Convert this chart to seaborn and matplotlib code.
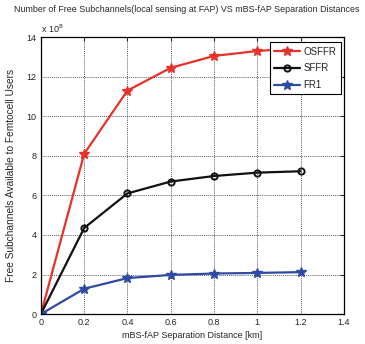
import matplotlib
matplotlib.use("Agg")
import matplotlib.pyplot as plt
import seaborn as sns
import pandas as pd
import numpy as np

distance = [0, 0.2, 0.4, 0.6, 0.8, 1.0, 1.2]
osffr = [0, 8.1, 11.3, 12.45, 13.05, 13.3, 13.45]
sffr = [0, 4.35, 6.1, 6.7, 6.98, 7.15, 7.22]
fr1 = [0, 1.28, 1.82, 1.98, 2.05, 2.08, 2.12]
series_names = ["OSFFR", "SFFR", "FR1"]
xticks = [0, 0.2, 0.4, 0.6, 0.8, 1, 1.2, 1.4]
yticks = [0, 2, 4, 6, 8, 10, 12, 14]

sns.set_style("white")
plt.rcParams['font.family'] = ['Liberation Sans', 'DejaVu Sans']

df = pd.DataFrame({
    "d": distance * 3,
    "v": osffr + sffr + fr1,
    "s": [series_names[0]] * 7 + [series_names[1]] * 7 + [series_names[2]] * 7,
})

fig = plt.figure(figsize=(3.65, 3.44), dpi=100)
ax = fig.add_axes([0.112, 0.087, 0.830, 0.805])

colors = {"OSFFR": "#e8312a", "SFFR": "#111111", "FR1": "#2f4aa5"}
markers = {"OSFFR": "*", "SFFR": "o", "FR1": "*"}
for name in series_names:
    sub = df[df.s == name]
    sns.lineplot(data=sub, x="d", y="v", ax=ax, color=colors[name], lw=1.6,
                 marker=markers[name],
                 markersize=7 if markers[name] == "*" else 4.5,
                 markerfacecolor=colors[name] if markers[name] == "*" else "none",
                 markeredgecolor=colors[name], markeredgewidth=1.4 if name == "SFFR" else 1,
                 label=name)

ax.set_xlim(0, 1.4)
ax.set_ylim(0, 14)
ax.set_xticks(xticks)
ax.set_xticklabels([f"{t:g}" for t in xticks])
ax.set_yticks(yticks)
ax.grid(True, color="#222222", linestyle=(0, (1.5, 1.5)), linewidth=0.5)
ax.tick_params(direction="in", top=True, right=True, labelsize=6.5, length=3, width=0.8, pad=3)
for sp in ax.spines.values():
    sp.set_color("black")
    sp.set_linewidth(0.9)

ax.set_xlabel("mBS-fAP Separation Distance [km]", fontsize=6.5, labelpad=3)
ax.set_ylabel("Free Subchannels Available to Femtocell Users", fontsize=7.3, labelpad=8)
fig.text(0.512, 0.985,
         "Number of Free Subchannels(local sensing at FAP) VS mBS-fAP Separation Distances",
         fontsize=6.4, ha="center", va="top")
ax.text(0.0, 1.008, r"x 10$^8$", transform=ax.transAxes, fontsize=6.5, ha="left", va="bottom")

leg = ax.legend(loc="upper right", bbox_to_anchor=(0.99, 0.982), borderaxespad=0,
                fontsize=7, frameon=True, fancybox=False,
                edgecolor="black", framealpha=1,
                handlelength=2.6, labelspacing=0.7, borderpad=0.45, handletextpad=0.4)
leg.get_frame().set_linewidth(0.8)

fig.savefig("out.png", dpi=100)
